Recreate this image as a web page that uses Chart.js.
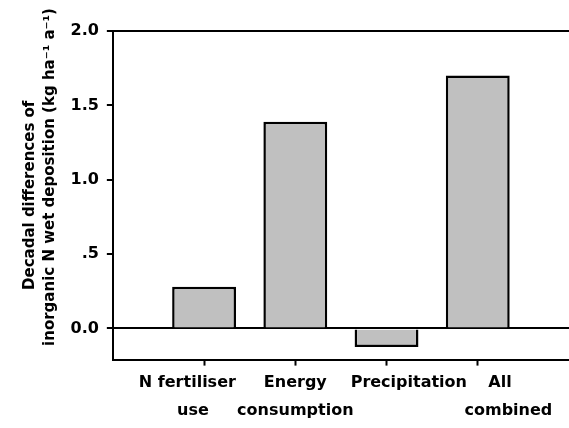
<!DOCTYPE html>
<html>
<head>
<meta charset="utf-8">
<script src="https://cdn.jsdelivr.net/npm/chart.js@4/dist/chart.umd.min.js"></script>
<style>
  html, body { margin: 0; padding: 0; background: #fff; }
  #wrap { width: 569px; height: 428px; }
</style>
</head>
<body>
<div id="wrap"><canvas id="chart" width="569" height="428"></canvas></div>
<script>
// two-line category labels (spaces nudge them like the original layout)
const categories = [
    ['N fertiliser      ', 'use    '],
    ['Energy', 'consumption'],
    ['        Precipitation', ''],
    ['        All', '           combined'],
];
const differences = [0.28, 1.39, -0.126, 1.7];
const yTicks = [0, 0.5, 1, 1.5, 2];
const yTickLabels = ['0.0', '.5', '1.0', '1.5', '2.0'];
const yTitle = ['Decadal differences of', '       inorganic N wet deposition (kg ha\u207B\u00B9 a\u207B\u00B9)'];

const FONT = 'DejaVu Sans';

// the axis has an empty slot before and after the four bars
const labels = [[''], ...categories, ['']];
const values = [null, ...differences, null];

new Chart(document.getElementById('chart'), {
    type: 'bar',
    data: {
        labels,
        datasets: [{
            data: values,
            backgroundColor: '#c0c0c0',
            borderColor: '#000',
            borderWidth: 2.5,
            borderSkipped: 'start',
            barPercentage: 0.7,
            categoryPercentage: 1,
        }],
    },
    options: {
        responsive: false,
        animation: false,
        layout: { padding: { top: 31, right: 0, bottom: 0, left: 20 } },
        plugins: { legend: { display: false }, tooltip: { enabled: false } },
        scales: {
            x: {
                offset: false,
                afterBuildTicks: (s) => { s.ticks = s.ticks.filter((t) => t.value > 0 && t.value < labels.length - 1); },
                ticks: {
                    color: '#000',
                    font: { family: FONT, size: 16, weight: 'bold', lineHeight: 1.7 },
                    padding: 4,
                    maxRotation: 0,
                    autoSkip: false,
                },
                grid: { offset: false, drawOnChartArea: false, tickLength: 6, tickColor: '#000', tickWidth: 2 },
                border: { color: '#000', width: 2 },
            },
            y: {
                min: -0.21,
                max: 2.0,
                afterBuildTicks: (s) => { s.ticks = yTicks.map((v) => ({ value: v })); },
                ticks: {
                    color: '#000',
                    font: { family: FONT, size: 16, weight: 'bold' },
                    padding: 8,
                    callback: (v) => yTickLabels[yTicks.indexOf(v)],
                },
                grid: {
                    color: (c) => (c.tick && (c.tick.value === 0 || c.tick.value === 2) ? '#000' : 'rgba(0,0,0,0)'),
                    lineWidth: 2,
                    tickLength: 6,
                    tickColor: '#000',
                    tickWidth: 2,
                },
                border: { color: '#000', width: 2 },
                title: {
                    display: true,
                    text: yTitle,
                    color: '#000',
                    font: { family: FONT, size: 15, weight: 'bold', lineHeight: 1.35 },
                    padding: { top: 0, bottom: 2 },
                },
            },
        },
    },
});
</script>
</body>
</html>
